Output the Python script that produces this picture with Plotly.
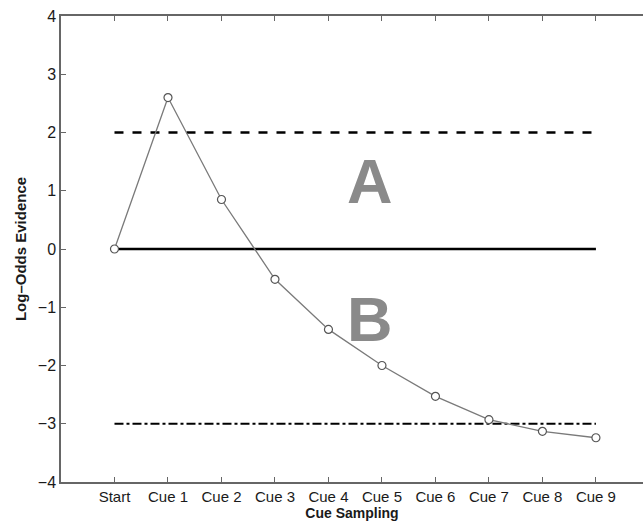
import plotly.graph_objects as go

categories = ["Start", "Cue 1", "Cue 2", "Cue 3", "Cue 4", "Cue 5", "Cue 6", "Cue 7", "Cue 8", "Cue 9"]
evidence = [0.0, 2.6, 0.85, -0.52, -1.38, -2.0, -2.53, -2.93, -3.13, -3.24]
threshold_a = 2.0
neutral = 0.0
threshold_b = -3.0
y_ticks = [-4, -3, -2, -1, 0, 1, 2, 3, 4]

xs = list(range(len(categories)))

fig = go.Figure()
fig.add_trace(go.Scatter(x=[xs[0], xs[-1]], y=[threshold_a] * 2, mode="lines",
                         line=dict(color="black", width=2.5, dash="dash"), hoverinfo="skip"))
fig.add_trace(go.Scatter(x=[xs[0], xs[-1]], y=[neutral] * 2, mode="lines",
                         line=dict(color="black", width=2.5), hoverinfo="skip"))
fig.add_trace(go.Scatter(x=[xs[0], xs[-1]], y=[threshold_b] * 2, mode="lines",
                         line=dict(color="black", width=2, dash="dashdot"), hoverinfo="skip"))
fig.add_trace(go.Scatter(x=xs, y=evidence, mode="lines+markers",
                         line=dict(color="#7a7a7a", width=1.3),
                         marker=dict(size=8, color="white", line=dict(color="#555555", width=1.2))))

fig.add_annotation(x=4.78, y=1.16, text="<b>A</b>", showarrow=False,
                   font=dict(family="Liberation Sans, Arial", size=63, color="#8a8a8a"))
fig.add_annotation(x=4.78, y=-1.2, text="<b>B</b>", showarrow=False,
                   font=dict(family="Liberation Sans, Arial", size=63, color="#8a8a8a"))

fig.update_layout(
    width=643, height=525,
    margin=dict(l=61, r=0, t=16, b=43),
    plot_bgcolor="white", paper_bgcolor="white",
    showlegend=False,
    font=dict(family="Liberation Sans, Arial", size=13, color="#1a1a1a"),
    xaxis=dict(range=[-1, 9.88], tickvals=xs, ticktext=categories,
               showline=True, linecolor="#666666", linewidth=1.5, mirror="ticks",
               ticks="inside", ticklen=5, tickcolor="#666666",
               showgrid=False, zeroline=False,
               tickfont=dict(size=15),
               title=dict(text="<b>Cue Sampling</b>", font=dict(size=14), standoff=0)),
    yaxis=dict(range=[-4, 4], tickvals=y_ticks,
               ticktext=["\u22124", "\u22123", "\u22122", "\u22121", "0", "1", "2", "3", "4"],
               showline=True, linecolor="#666666", linewidth=1.5,
               ticks="inside", ticklen=5, tickcolor="#666666",
               showgrid=False, zeroline=False,
               tickfont=dict(size=16),
               title=dict(text="<b>Log\u2013Odds Evidence</b>", font=dict(size=15), standoff=8)),
)

fig.write_html("out.html")
